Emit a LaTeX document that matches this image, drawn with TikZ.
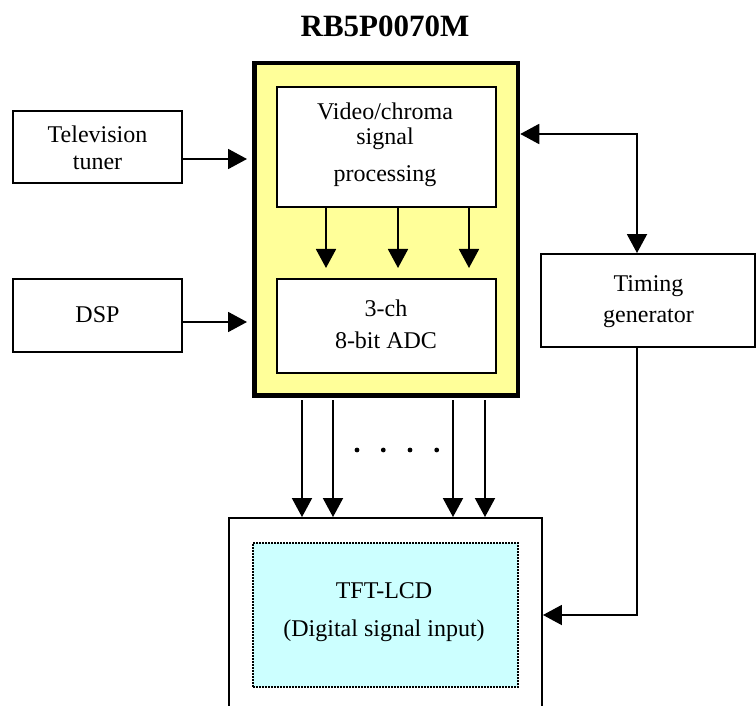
\documentclass[tikz,border=0pt]{standalone}
\usepackage{fontspec}
\setmainfont{Liberation Serif}
\usetikzlibrary{arrows.meta}
\definecolor{chipyellow}{HTML}{FFFF99}
\definecolor{lcdcyan}{HTML}{CCFFFF}
\begin{document}
\begin{tikzpicture}[x=1pt,y=-1pt,
  box/.style={draw,line width=1.9pt,fill=white,inner sep=0pt,anchor=center},
  lbl/.style={inner sep=0pt,anchor=base,font=\fontsize{24}{28}\selectfont},
  conn/.style={line width=1.9pt,-{Triangle[length=19pt,width=20pt]}},
  biconn/.style={line width=1.9pt,{Triangle[length=19pt,width=20pt]}-{Triangle[length=19pt,width=20pt]}}]
\clip (0,0) rectangle (756,706);
\fill[white] (0,0) rectangle (756,706);
% title
\node[inner sep=0pt,anchor=base,font=\fontsize{31}{36}\selectfont\bfseries] (title) at (385,36.5) {RB5P0070M};
% chip
\node[draw,line width=4.5pt,fill=chipyellow,minimum width=263.5pt,minimum height=332.5pt,inner sep=0pt] (chip) at (386.25,229.25) {};
\node[box,minimum width=219pt,minimum height=120pt] (video) at (386.5,147) {};
\node[lbl] (v1) at (385,119.5) {Video/chroma};
\node[lbl] (v2) at (385,145) {signal};
\node[lbl] (v3) at (385,182) {processing};
\node[box,minimum width=219pt,minimum height=94pt] (adc) at (386.5,326) {};
\node[lbl] (a1) at (386,316.5) {3-ch};
\node[lbl] (a2) at (386,348) {8-bit ADC};
% left boxes
\node[box,minimum width=169pt,minimum height=72pt] (tuner) at (97.5,147) {};
\node[lbl] (t1) at (97.5,143) {Television};
\node[lbl] (t2) at (97.5,170) {tuner};
\node[box,minimum width=169pt,minimum height=73pt] (dsp) at (97.5,315.5) {};
\node[lbl] (d1) at (97.5,323) {DSP};
% timing
\node[box,minimum width=214pt,minimum height=93pt] (timing) at (648,300.5) {};
\node[lbl] (tg1) at (648.5,291.5) {Timing};
\node[lbl] (tg2) at (648.5,323) {generator};
% LCD
\node[box,minimum width=313pt,minimum height=203pt] (lcd) at (385.5,619.5) {};
\node[draw,dash pattern=on 1.6pt off 1.4pt,line width=1.7pt,fill=lcdcyan,minimum width=265pt,minimum height=144pt,inner sep=0pt] (panel) at (385.5,615) {};
\node[lbl] (p1) at (384,598) {TFT-LCD};
\node[lbl] (p2) at (384,636) {(Digital signal input)};
% connectors
\draw[conn] (tuner.east |- 0,159) -- (247,159);
\draw[conn] (dsp.east |- 0,322) -- (247,322);
\foreach \x in {326,398,469}{
  \draw[conn] (video.south -| \x,0) -- (\x,268);
}
\coordinate (bend) at (637,134);
\draw[biconn] (chip.east |- bend) -- (bend) -- (timing.north -| bend);
\draw[conn] (timing.south -| bend) -- (637,615) -- (lcd.east |- 0,615);
\foreach \x in {302,333,453,485}{
  \draw[conn] (\x,400) -- (lcd.north -| \x,0);
}
\foreach \x in {357,383.3,410,436.7}{
  \fill (\x,450) circle (2.4pt);
}
\end{tikzpicture}
\end{document}
